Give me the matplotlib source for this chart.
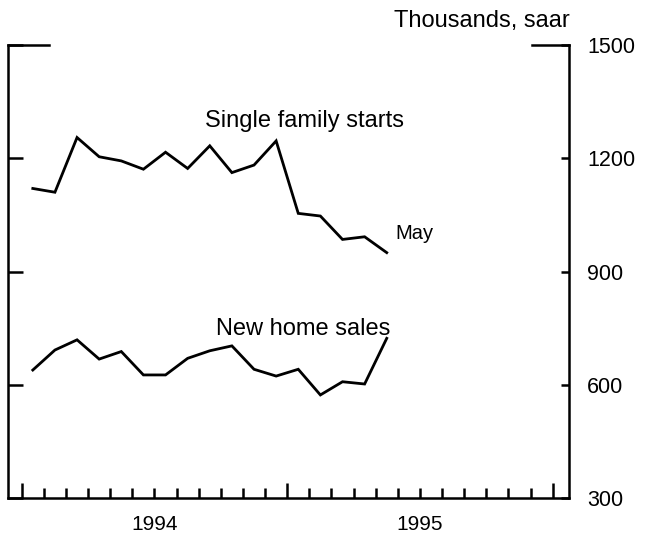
import matplotlib

matplotlib.use("Agg")
import matplotlib.pyplot as plt
import matplotlib.transforms as mtransforms
import numpy as np

plt.rcParams["font.family"] = ["Liberation Sans", "DejaVu Sans"]

# monthly data, Jan 1994 .. May 1995 (thousands, saar)
months = np.arange(17)
single_family_starts = [1120, 1110, 1255, 1204, 1193, 1171, 1216, 1173, 1233,
                        1162, 1182, 1246, 1054, 1047, 985, 992, 950]
new_home_sales = [639, 692, 719, 668, 688, 626, 626, 670, 690, 703, 641,
                  623, 641, 573, 608, 602, 723]
year_labels = ["1994", "1995"]
y_ticks = [300, 600, 900, 1200, 1500]

LW = 1.8

fig = plt.figure(figsize=(6.53, 5.36), dpi=100, facecolor="white")
ax = fig.add_axes([0.0123, 0.0709, 0.8591, 0.8451])

x = months + 0.5
ax.plot(x, single_family_starts, color="black", linewidth=2.0, solid_joinstyle="miter")
ax.plot(x, new_home_sales, color="black", linewidth=2.0, solid_joinstyle="miter")

ax.set_xlim(-0.62, 24.74)
ax.set_ylim(300, 1500)

for side in ("left", "right", "bottom"):
    ax.spines[side].set_linewidth(LW)
ax.spines["top"].set_visible(False)

# left ticks (no labels)
ax.set_yticks(y_ticks)
ax.tick_params(axis="y", direction="in", left=True, right=False,
               labelleft=False, length=11, width=LW)

# right ticks with labels
ax2 = ax.twinx()
ax2.set_ylim(ax.get_ylim())
ax2.set_yticks(y_ticks)
ax2.set_yticklabels([str(v) for v in y_ticks])
for side in ax2.spines:
    ax2.spines[side].set_visible(False)
ax2.tick_params(axis="y", direction="in", length=6, width=LW,
                labelsize=15.5, pad=13)

ax.set_xticks([0, 12, 24])
ax.set_xticks(np.arange(25), minor=True)
ax.set_xticklabels([])
ax.tick_params(axis="x", which="major", direction="in", length=10.5, width=LW)
ax.tick_params(axis="x", which="minor", direction="in", length=7, width=LW)

# long frame ticks at the top value
ax.axhline(1500, xmin=0, xmax=0.073, color="black", linewidth=LW, clip_on=False)
ax.axhline(1500, xmin=0.934, xmax=1, color="black", linewidth=LW, clip_on=False)

trans = mtransforms.blended_transform_factory(ax.transData, ax.transAxes)
for i, lab in enumerate(year_labels):
    ax.text(6 + 12 * i, -0.0706, lab, transform=trans, ha="center",
            va="baseline", fontsize=15)

ax.text(12.76, 1283, "Single family starts", ha="center", va="baseline", fontsize=17)
ax.text(16.88, 986, "May", ha="left", va="baseline", fontsize=14.5)
ax.text(12.74, 732, "New home sales", ha="center", va="baseline", fontsize=17)
ax.text(0.845, 1.040, "Thousands, saar", transform=ax.transAxes, ha="center",
        va="baseline", fontsize=17)

fig.savefig("out.png", dpi=100, facecolor="white")
